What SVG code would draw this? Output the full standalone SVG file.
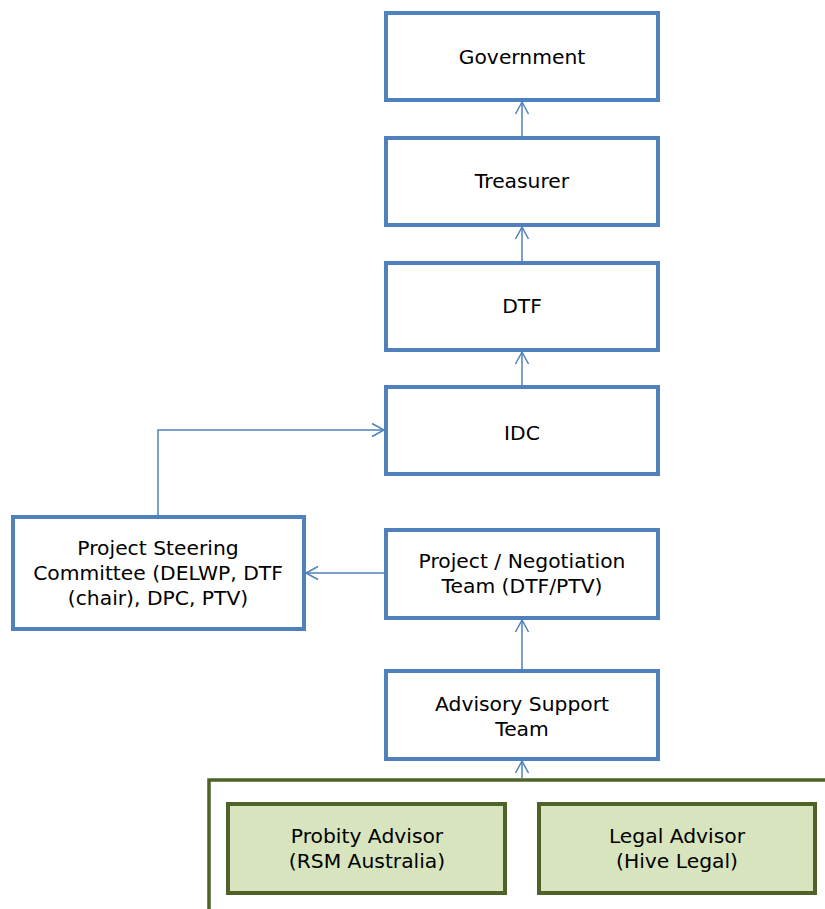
<svg xmlns="http://www.w3.org/2000/svg" width="825" height="909" viewBox="0 0 825 909">
<style>
.box{fill:#fff;stroke:#4f81bd;stroke-width:4}
.gbox{fill:#d7e4bd;stroke:#4f6228;stroke-width:4}
.frame{fill:none;stroke:#4f6228;stroke-width:3.5}
.t{font-family:"DejaVu Sans",sans-serif;font-size:20.3px;fill:#000;text-anchor:middle}
.c{fill:none;stroke:#4f81bd;stroke-width:1.5}
</style>
<defs>
<marker id="a" markerWidth="16" markerHeight="16" refX="13" refY="8" orient="auto" markerUnits="userSpaceOnUse">
<path d="M1,1.5 L13,8 L1,14.5" fill="none" stroke="#4f81bd" stroke-width="1.5"/>
</marker>
</defs>
<rect width="825" height="909" fill="#fff"/>
<g id="frame"><path class="frame" d="M209,909 L209,780 L825,780"/></g>
<g id="government"><rect class="box" x="386" y="13" width="272" height="87"/><text class="t" x="522" y="64">Government</text></g>
<g id="treasurer"><rect class="box" x="386" y="138" width="272" height="87"/><text class="t" x="522" y="188">Treasurer</text></g>
<g id="dtf"><rect class="box" x="386" y="263" width="272" height="87"/><text class="t" x="522" y="313">DTF</text></g>
<g id="idc"><rect class="box" x="386" y="387" width="272" height="87"/><text class="t" x="522" y="440">IDC</text></g>
<g id="steering"><rect class="box" x="13" y="517" width="291" height="112"/><text class="t" x="158" y="555">Project Steering</text><text class="t" x="158" y="580">Committee (DELWP, DTF</text><text class="t" x="158" y="605">(chair), DPC, PTV)</text></g>
<g id="project"><rect class="box" x="386" y="530" width="272" height="88"/><text class="t" x="522" y="568">Project / Negotiation</text><text class="t" x="522" y="593">Team (DTF/PTV)</text></g>
<g id="advisory"><rect class="box" x="386" y="671" width="272" height="88"/><text class="t" x="522" y="711">Advisory Support</text><text class="t" x="522" y="736">Team</text></g>
<g id="probity"><rect class="gbox" x="228" y="804" width="277" height="89"/><text class="t" x="367" y="843">Probity Advisor</text><text class="t" x="367" y="868">(RSM Australia)</text></g>
<g id="legal"><rect class="gbox" x="539" y="804" width="276" height="89"/><text class="t" x="677" y="843">Legal Advisor</text><text class="t" x="677" y="868">(Hive Legal)</text></g>
<g id="connectors">
<line class="c" x1="522" y1="136" x2="522" y2="102" marker-end="url(#a)"/>
<line class="c" x1="522" y1="261" x2="522" y2="227" marker-end="url(#a)"/>
<line class="c" x1="522" y1="385" x2="522" y2="352" marker-end="url(#a)"/>
<line class="c" x1="522" y1="669" x2="522" y2="620" marker-end="url(#a)"/>
<line class="c" x1="522" y1="778" x2="522" y2="761" marker-end="url(#a)"/>
<polyline class="c" points="158,515 158,430 384,430" marker-end="url(#a)"/>
<line class="c" x1="384" y1="573" x2="306" y2="573" marker-end="url(#a)"/>
</g>
</svg>
